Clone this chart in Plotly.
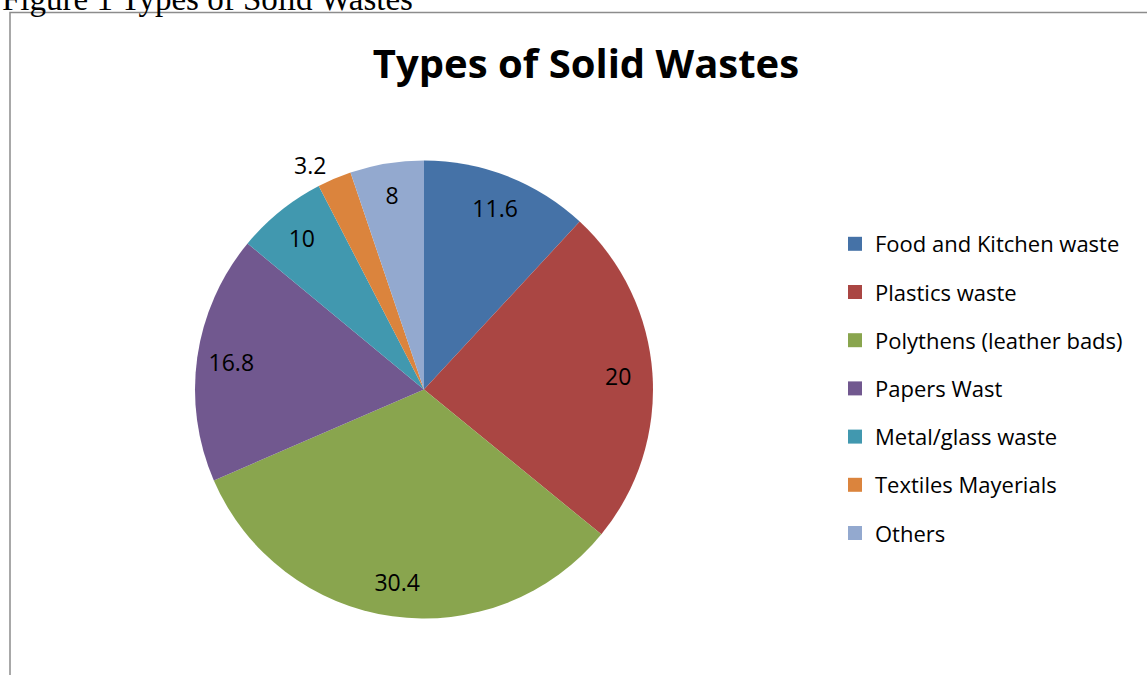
import plotly.graph_objects as go

# ---- data ----
categories = ["Food and Kitchen waste", "Plastics waste", "Polythens (leather bads)",
              "Papers Wast", "Metal/glass waste", "Textiles Mayerials", "Others"]
label_values = [11.6, 20, 30.4, 16.8, 10, 3.2, 8]          # numbers printed on the slices
slice_shares = [11.9, 24.0, 32.6, 17.5, 6.4, 2.4, 5.2]     # slice sizes as drawn in the picture
colors = ["#4572A7", "#AA4643", "#89A54E", "#71588F", "#4198AF", "#DB843D", "#93A9CF"]
label_pos = ["inside", "inside", "inside", "inside", "inside", "outside", "inside"]

W, H = 1147, 675
FONT = "Open Sans"

def px_x(p):
    return p / W

def px_y(p):
    return 1 - p / H

cx, cy, r = 424, 389.5, 229
dom = dict(x=[px_x(cx - r), px_x(cx + r)], y=[px_y(cy + r), px_y(cy - r)])

fig = go.Figure()
# coloured slices
fig.add_trace(go.Pie(
    labels=categories, values=slice_shares,
    textinfo="none",
    marker=dict(colors=colors, line=dict(color="white", width=0)),
    sort=False, direction="clockwise", rotation=0,
    showlegend=False, domain=dom, hoverinfo="label+text",
    text=[f"{v:g}" for v in label_values],
))
# transparent ring overlay that carries the data labels near the rim
fig.add_trace(go.Pie(
    labels=categories, values=slice_shares,
    text=[f"{v:g}" for v in label_values],
    textinfo="text", textposition=label_pos,
    insidetextorientation="horizontal",
    textfont=dict(family=FONT, size=23, color="black"),
    marker=dict(colors=["rgba(0,0,0,0)"] * len(categories), line=dict(width=0)),
    hole=0.7,
    sort=False, direction="clockwise", rotation=0,
    showlegend=False, domain=dom, hoverinfo="skip",
))

for i, (name, col) in enumerate(zip(categories, colors)):
    fig.add_trace(go.Scatter(
        x=[None], y=[None], mode="markers", name=name,
        marker=dict(symbol="square", size=14, color=col),
        legendgroup=f"g{i}", showlegend=True,
    ))

fig.update_layout(
    width=W, height=H,
    margin=dict(l=0, r=0, t=0, b=0),
    paper_bgcolor="white", plot_bgcolor="white",
    xaxis=dict(visible=False), yaxis=dict(visible=False),
    title=dict(text="<b>Types of Solid Wastes</b>", x=px_x(586), xanchor="center",
               y=px_y(64), yanchor="middle",
               font=dict(family=FONT, size=40, color="black")),
    legend=dict(x=px_x(835), xanchor="left", y=px_y(223), yanchor="top",
                traceorder="grouped", tracegroupgap=16.6,
                font=dict(family=FONT, size=22, color="black"),
                bgcolor="rgba(0,0,0,0)"),
    shapes=[dict(type="rect", xref="paper", yref="paper",
                 x0=px_x(10), x1=px_x(W + 20), y0=px_y(H + 20), y1=px_y(12.5),
                 line=dict(color="#8c8c8c", width=1.5), layer="below")],
    annotations=[dict(text="Figure 1 Types of Solid Wastes", xref="paper", yref="paper",
                      x=0, xanchor="left", y=px_y(19), yanchor="bottom", showarrow=False,
                      font=dict(family="Liberation Serif", size=33, color="black"))],
)

fig.write_html("out.html")
